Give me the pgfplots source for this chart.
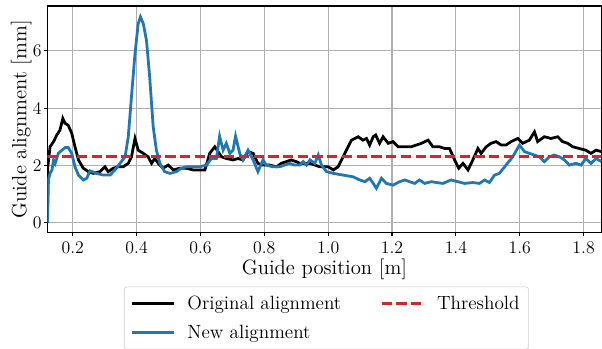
\documentclass[border=0pt]{standalone}
\usepackage{pgfplots}
\pgfplotsset{compat=1.18}
\definecolor{tabblue}{HTML}{1F77B4}
\definecolor{tabred}{HTML}{D62728}
\pgfplotstableread{
x y
0.121 0
0.122 1.95
0.129 2.65
0.140 2.83
0.150 3.06
0.160 3.23
0.169 3.64
0.176 3.47
0.186 3.40
0.197 3.12
0.207 2.65
0.218 2.19
0.233 1.90
0.249 1.78
0.265 1.72
0.285 1.78
0.301 1.95
0.311 1.78
0.327 1.90
0.343 1.95
0.358 1.95
0.374 2.07
0.384 2.30
0.395 2.94
0.405 2.53
0.421 2.42
0.436 2.30
0.447 2.07
0.457 2.24
0.468 2.07
0.483 1.90
0.499 2.01
0.515 1.84
0.535 1.90
0.556 1.90
0.577 1.84
0.598 1.84
0.614 1.84
0.629 2.42
0.645 2.65
0.655 2.48
0.666 2.30
0.681 2.24
0.702 2.19
0.718 2.24
0.733 2.19
0.749 2.48
0.765 2.42
0.780 2.07
0.796 2.01
0.817 2.01
0.838 1.95
0.853 2.07
0.869 2.13
0.884 2.19
0.900 2.13
0.911 2.07
0.943 2.07
0.974 1.95
1.000 1.95
1.016 1.84
1.031 1.95
1.052 2.42
1.073 2.88
1.094 3.00
1.109 2.88
1.120 2.94
1.130 2.71
1.141 3.00
1.149 3.06
1.161 2.77
1.172 3.00
1.188 2.77
1.203 2.83
1.219 2.65
1.240 2.65
1.260 2.65
1.276 2.71
1.292 2.77
1.313 2.88
1.328 2.65
1.349 2.65
1.365 2.59
1.380 2.59
1.396 2.19
1.409 1.90
1.422 2.07
1.438 1.84
1.453 2.19
1.469 2.59
1.479 2.42
1.495 2.65
1.510 2.77
1.526 2.83
1.542 2.71
1.557 2.71
1.573 2.83
1.594 2.94
1.609 2.77
1.630 2.88
1.646 3.17
1.656 2.83
1.677 3.00
1.698 2.94
1.719 3.00
1.734 2.83
1.750 2.77
1.766 2.65
1.786 2.59
1.807 2.53
1.823 2.42
1.839 2.53
1.856 2.48
}\original
\pgfplotstableread{
x y
0.121 0
0.124 1.49
0.129 1.72
0.135 1.84
0.140 2.19
0.145 2.07
0.155 2.42
0.166 2.53
0.176 2.62
0.186 2.62
0.197 2.42
0.207 1.95
0.218 1.66
0.233 1.49
0.244 1.55
0.254 1.81
0.275 1.72
0.296 1.66
0.317 1.66
0.332 1.84
0.348 2.07
0.364 2.30
0.374 3.00
0.384 4.40
0.395 5.90
0.405 6.95
0.412 7.19
0.421 6.95
0.431 6.37
0.441 5.09
0.452 3.35
0.462 2.53
0.473 2.07
0.488 1.78
0.504 1.72
0.525 1.78
0.540 1.90
0.556 1.95
0.577 1.95
0.598 1.95
0.619 2.01
0.634 2.24
0.650 2.24
0.660 3.02
0.671 2.53
0.681 2.77
0.692 2.42
0.702 2.53
0.710 3.02
0.723 2.42
0.733 2.19
0.749 2.53
0.765 2.19
0.780 1.78
0.796 2.19
0.806 2.01
0.827 1.95
0.848 1.95
0.864 2.01
0.879 2.07
0.895 2.01
0.911 2.01
0.922 2.13
0.932 2.01
0.943 2.19
0.958 2.07
0.969 2.36
0.979 2.01
0.995 1.78
1.016 1.72
1.047 1.66
1.078 1.60
1.099 1.49
1.115 1.43
1.130 1.55
1.141 1.37
1.151 1.20
1.167 1.55
1.182 1.37
1.203 1.31
1.224 1.43
1.240 1.49
1.255 1.43
1.271 1.37
1.286 1.49
1.302 1.37
1.323 1.43
1.339 1.40
1.359 1.37
1.385 1.49
1.406 1.43
1.427 1.37
1.453 1.40
1.474 1.37
1.490 1.49
1.505 1.40
1.521 1.66
1.536 1.72
1.557 2.01
1.578 2.30
1.599 2.71
1.615 2.48
1.630 2.42
1.646 2.36
1.661 2.30
1.677 2.13
1.693 2.30
1.708 2.36
1.724 2.30
1.740 2.19
1.755 2.01
1.776 2.07
1.792 2.01
1.807 2.24
1.823 2.07
1.839 2.24
1.856 2.13
}\newalign
\pgfplotstableread{
x y
0.121 2.3
1.856 2.3
}\threshold
\begin{document}
\begin{tikzpicture}
\begin{axis}[
  scale only axis,
  width=398.9pt, height=163.4pt,
  xmin=0.121, xmax=1.856,
  ymin=-0.36, ymax=7.57,
  xtick={0.2,0.4,0.6,0.8,1.0,1.2,1.4,1.6,1.8},
  ytick={0,2,4,6},
  xticklabel={\pgfmathprintnumber[fixed,fixed zerofill,precision=1]{\tick}},
  yticklabel={\pgfmathprintnumber[fixed,precision=0]{\tick}},
  /pgf/number format/assume math mode=true,
  tick label style={font=\fontsize{12.8}{15}\selectfont},
  yticklabel style={inner sep=1.5pt},
  tick align=outside,
  major tick length=2.5pt,
  xtick pos=bottom, ytick pos=left,
  grid=major,
  major grid style={color=black!31, line width=0.8pt},
  axis line style={line width=0.8pt},
  tick style={line width=0.8pt, black},
  xlabel={Guide position [m]},
  ylabel={Guide alignment [mm]},
  label style={font=\fontsize{14.9}{17}\selectfont},
  xlabel style={at={(axis description cs:0.5,-0.1616)}, anchor=center},
  ylabel style={at={(axis description cs:-0.0476,0.5)}, anchor=center},
  legend columns=2,
  legend cell align=left,
  legend style={at={(axis description cs:0.5,0)}, anchor=north, yshift=-38.7pt, xshift=1.4pt,
    font=\fontsize{13.8}{16}\selectfont,
    draw=black!20, rounded corners=2pt, fill=white, inner sep=4.5pt,
    row sep=5.5pt,
    nodes={inner sep=2pt},
    /tikz/every odd column/.append style={column sep=7pt},
    /tikz/every even column/.append style={column sep=26pt}},
  legend image code/.code={\draw[#1] (0pt,0pt) -- (30pt,0pt);},
]
\addlegendimage{black, line width=2pt}
\addlegendentry{Original alignment}
\addlegendimage{tabred, line width=2pt, dash pattern=on 7.4pt off 3.2pt}
\addlegendentry{Threshold}
\addlegendimage{tabblue, line width=2pt}
\addlegendentry{New alignment}
\addplot[black, line width=2pt, forget plot] table[x=x,y=y] {\original};
\addplot[tabblue, line width=2pt, forget plot] table[x=x,y=y] {\newalign};
\addplot[tabred, line width=2pt, dash pattern=on 7.4pt off 3.2pt, forget plot] table[x=x,y=y] {\threshold};
\end{axis}
\pgfresetboundingbox
\path[use as bounding box] ([xshift=-34.2pt,yshift=-83.3pt]current axis.south west) rectangle ([xshift=0.36pt,yshift=4.3pt]current axis.north east);
\end{tikzpicture}
\end{document}
